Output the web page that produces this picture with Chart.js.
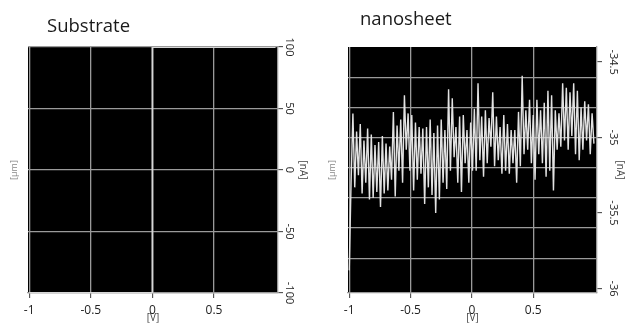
<!DOCTYPE html>
<html lang="en">
<head>
<meta charset="utf-8">
<title>Substrate / nanosheet I-V</title>
<script src="https://cdn.jsdelivr.net/npm/chart.js@4.4.1/dist/chart.umd.min.js"></script>
<style>
  html, body { margin: 0; padding: 0; background: #fff; }
  body { width: 629px; height: 328px; position: relative; overflow: hidden; }
  .panel { position: absolute; top: 0; height: 328px; }
  #panel-substrate { left: 0; width: 314px; }
  #panel-nanosheet { left: 314px; width: 315px; }
  .panel-title {
    position: absolute;
    font-family: 'Open Sans', sans-serif;
    font-size: 18.5px;
    line-height: 1;
    color: #1a1a1a;
    white-space: nowrap;
  }
  #panel-substrate .panel-title { left: 47px; top: 16px; }
  #panel-nanosheet .panel-title { left: 46px; top: 9px; }
</style>
</head>
<body>
<div class="panel" id="panel-substrate">
  <canvas id="substrate-chart"></canvas>
  <div class="panel-title">Substrate</div>
</div>
<div class="panel" id="panel-nanosheet">
  <canvas id="nanosheet-chart"></canvas>
  <div class="panel-title">nanosheet</div>
</div>

<script>
/* ── Data ─────────────────────────────────────────────────── */

const xTicks = [-1, -0.5, 0, 0.5];

// Substrate: current sits on the range limit, flips at 0 V
const substrateVoltage = [-1, 0, 0, 1];
const substrateCurrent = [-100, -100, 100, 100];
const substrateTicks = [-100, -50, 0, 50, 100];

// Nanosheet sweep [V] and current [nA]
const nanosheetVoltage = [
  -1, -0.985, -0.97, -0.955, -0.94, -0.925, -0.91, -0.895, -0.88, -0.865,
  -0.85, -0.835, -0.82, -0.805, -0.79, -0.775, -0.76, -0.745, -0.73, -0.715,
  -0.7, -0.685, -0.67, -0.655, -0.64, -0.625, -0.61, -0.595, -0.58, -0.565,
  -0.55, -0.535, -0.52, -0.505, -0.49, -0.475, -0.46, -0.445, -0.43, -0.415,
  -0.4, -0.385, -0.37, -0.355, -0.34, -0.325, -0.31, -0.295, -0.28, -0.265,
  -0.25, -0.235, -0.22, -0.205, -0.19, -0.175, -0.16, -0.145, -0.13, -0.115,
  -0.1, -0.085, -0.07, -0.055, -0.04, -0.025, -0.01, 0.005, 0.02, 0.035,
  0.05, 0.065, 0.08, 0.095, 0.11, 0.125, 0.14, 0.155, 0.17, 0.185,
  0.2, 0.215, 0.23, 0.245, 0.26, 0.275, 0.29, 0.305, 0.32, 0.335,
  0.35, 0.365, 0.38, 0.395, 0.41, 0.425, 0.44, 0.455, 0.47, 0.485,
  0.5, 0.515, 0.53, 0.545, 0.56, 0.575, 0.59, 0.605, 0.62, 0.635,
  0.65, 0.665, 0.68, 0.695, 0.71, 0.725, 0.74, 0.755, 0.77, 0.785,
  0.8, 0.815, 0.83, 0.845, 0.86, 0.875, 0.89, 0.905, 0.92, 0.935,
  0.95, 0.965, 0.98, 0.995,
];

const nanosheetCurrent = [
  -35.88, -35.30,
  -34.84, -35.33, -34.96, -35.25, -34.91, -35.37, -35.02, -35.30,
  -34.94, -35.41, -34.98, -35.40, -35.05, -35.36, -35.03, -35.46,
  -34.99, -35.37, -35.04, -35.35, -35.06, -35.28, -34.83, -35.39,
  -34.92, -35.22, -34.88, -35.30, -34.72, -35.08, -34.84, -35.22,

  -34.85, -35.35, -34.90, -35.28, -34.93, -35.24, -34.94, -35.44,
  -34.93, -35.33, -34.88, -35.38, -34.97, -35.50, -34.92, -35.41,
  -34.88, -35.30, -34.95, -35.34, -34.68, -35.22, -34.74, -35.13,
  -34.93, -35.30, -34.86, -35.36, -34.85, -35.17, -34.95, -35.30,
  -34.90, -35.22,

  -34.81, -35.22, -34.64, -35.15, -34.86, -35.26, -34.82, -35.17,
  -34.87, -35.06, -34.70, -35.19, -34.86, -35.15, -34.93, -35.24,
  -34.85, -35.22, -34.91, -35.24, -34.95, -35.17, -34.95, -35.30,
  -34.83, -35.19, -34.59, -35.11, -34.82, -35.08, -34.75, -35.17,
  -34.85,

  -35.28, -34.75, -35.11, -34.82, -35.17, -34.77, -35.26, -34.69,
  -35.22, -34.72, -35.35, -34.82, -35.08, -34.84, -35.06, -34.64,
  -35.02, -34.67, -35.08, -34.70, -34.99, -34.64, -35.11, -34.69,
  -35.15, -34.80, -35.08, -34.76, -35.02, -34.78, -35.11, -34.84,
  -35.04,
];

const nanosheetTicks = [-36, -35.5, -35, -34.5];
const nanosheetGrid = [-35.8, -35.6, -35.4, -35.2, -35, -34.8, -34.6];

/* ── Style ────────────────────────────────────────────────── */

const GRID_COLOR = '#9a9a9a';
const TICK_COLOR = '#3a3a3a';
const TRACE_COLOR = '#e2e2e2';

Chart.defaults.font.family = "'Open Sans', sans-serif";
Chart.defaults.color = '#2a2a2a';

/* ── Helpers ──────────────────────────────────────────────── */

/** Fill the plot area black before anything else is drawn. */
const plotBackground = {
  id: 'plotBackground',
  beforeDraw(chart) {
    const { ctx, chartArea } = chart;
    if (!chartArea) return;
    ctx.save();
    ctx.fillStyle = '#000';
    ctx.fillRect(chartArea.left, chartArea.top, chartArea.width, chartArea.height);
    ctx.restore();
  },
};

/** Pin an axis to an explicit list of tick values. */
function fixedTicks(values) {
  return (scale) => {
    scale.ticks = values.map((value) => ({ value }));
  };
}

/** Shared x axis: -1 .. 1 V, labels under the frame. */
function voltageAxis() {
  return {
    type: 'linear',
    min: -1.01,
    max: 1.02,
    afterBuildTicks: fixedTicks(xTicks),
    afterFit: (scale) => { scale.height = 35; },
    grid: { color: GRID_COLOR, lineWidth: 1.3, tickLength: 5, tickColor: TICK_COLOR, tickWidth: 1 },
    border: { color: GRID_COLOR, width: 1.3 },
    ticks: {
      padding: 5,
      maxRotation: 0,
      font: { size: 12 },
      color: '#222',
      callback: (v) => String(v),
    },
    title: {
      display: true,
      text: '[V]',
      font: { size: 10 },
      color: '#444',
      padding: { top: 0, bottom: 4 },
    },
  };
}

/** Left side axis that only carries the "[µm]" caption. */
function captionAxis(width, pad) {
  return {
    type: 'linear',
    position: 'left',
    min: 0,
    max: 1,
    afterFit: (scale) => { scale.width = width; },
    grid: { display: false },
    border: { display: false },
    ticks: { display: false },
    title: {
      display: true,
      text: '[µm]',
      font: { size: 9 },
      color: '#888',
      padding: { top: pad, bottom: 0 },
    },
  };
}

/** Right-hand current axis with labels turned on their side. */
function currentAxis({ min, max, ticks, width, labelPad, titlePad, drawGrid }) {
  return {
    type: 'linear',
    position: 'right',
    min,
    max,
    afterBuildTicks: fixedTicks(ticks),
    afterFit: (scale) => { scale.width = width; },
    grid: {
      color: GRID_COLOR,
      lineWidth: 1.3,
      drawOnChartArea: drawGrid,
      tickLength: 5,
      tickColor: TICK_COLOR,
      tickWidth: 1,
    },
    border: { color: GRID_COLOR, width: 1.3 },
    ticks: {
      minRotation: -90,
      maxRotation: -90,
      crossAlign: 'center',
      padding: labelPad,
      font: { size: 11 },
      color: '#222',
      callback: (v) => String(v),
    },
    title: {
      display: true,
      text: '[nA]',
      font: { size: 10 },
      color: '#444',
      padding: { top: titlePad, bottom: 0 },
    },
  };
}

function baseOptions(scales) {
  return {
    responsive: true,
    maintainAspectRatio: false,
    animation: false,
    layout: { padding: { top: 47, left: 0, right: 0, bottom: 0 } },
    plugins: {
      legend: { display: false },
      tooltip: { enabled: false },
    },
    elements: { point: { radius: 0 }, line: { tension: 0 } },
    scales,
  };
}

/* ── Substrate ────────────────────────────────────────────── */

new Chart(document.getElementById('substrate-chart'), {
  type: 'line',
  data: {
    labels: substrateVoltage,
    datasets: [{
      data: substrateCurrent,
      borderColor: '#d6d6d6',
      borderWidth: 1.8,
      yAxisID: 'y',
    }],
  },
  options: baseOptions({
    x: voltageAxis(),
    yl: captionAxis(28, 9),
    y: currentAxis({
      min: -100, max: 100, ticks: substrateTicks,
      width: 36, labelPad: -5, titlePad: 5, drawGrid: true,
    }),
  }),
  plugins: [plotBackground],
});

/* ── Nanosheet ────────────────────────────────────────────── */

new Chart(document.getElementById('nanosheet-chart'), {
  type: 'line',
  data: {
    labels: nanosheetVoltage,
    datasets: [{
      data: nanosheetCurrent,
      borderColor: TRACE_COLOR,
      borderWidth: 1.4,
      yAxisID: 'y',
    }],
  },
  options: baseOptions({
    x: voltageAxis(),
    yl: captionAxis(34, 13),
    // horizontal grid every 0.2 nA, independent of the labelled ticks
    yg: {
      type: 'linear',
      position: 'left',
      min: -36.03,
      max: -34.4,
      afterBuildTicks: fixedTicks(nanosheetGrid),
      afterFit: (scale) => { scale.width = 0; },
      grid: { color: GRID_COLOR, lineWidth: 1.3, drawTicks: false },
      border: { display: false },
      ticks: { display: false },
    },
    y: currentAxis({
      min: -36.03, max: -34.4, ticks: nanosheetTicks,
      width: 32, labelPad: -2, titlePad: 3, drawGrid: false,
    }),
  }),
  plugins: [plotBackground],
});
</script>
</body>
</html>
